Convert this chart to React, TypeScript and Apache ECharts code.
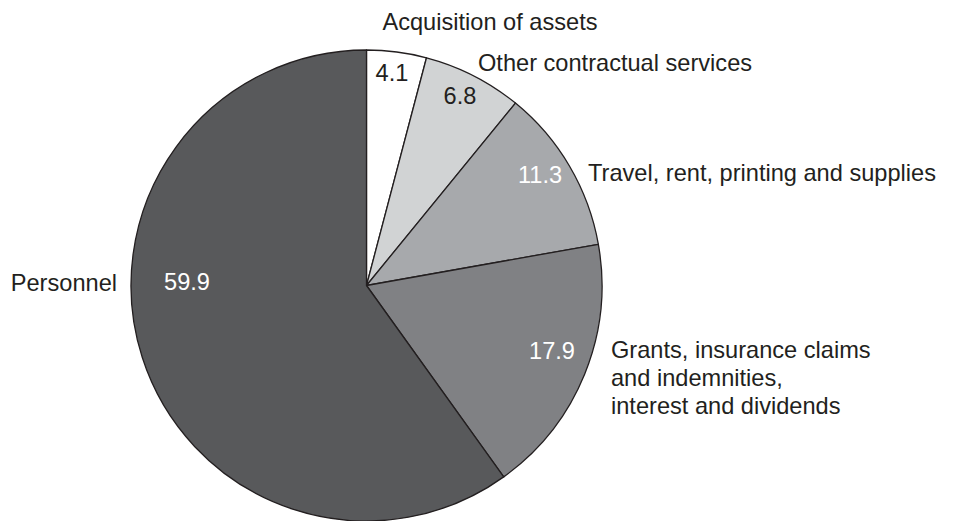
import React, { useEffect, useRef } from "react";
import * as echarts from "echarts";

const categories = [
  "Acquisition of assets",
  "Other contractual services",
  "Travel, rent, printing and supplies",
  "Grants, insurance claims\nand indemnities,\ninterest and dividends",
  "Personnel",
];
const values = [4.1, 6.8, 11.3, 17.9, 59.9];
const sliceColors = ["#ffffff", "#d1d3d4", "#a7a9ac", "#808184", "#58595b"];
const valueLabelColors = ["#231f20", "#231f20", "#ffffff", "#ffffff", "#ffffff"];

// label anchor positions (layout only)
const valueLabelPos: [number, number][] = [
  [392, 73],
  [460, 96],
  [540, 175],
  [552, 351],
  [187, 282],
];
const nameLabelPos: { x: number; y: number; align: string }[] = [
  { x: 490, y: 22, align: "center" },
  { x: 478, y: 63, align: "left" },
  { x: 588, y: 173, align: "left" },
  { x: 611, y: 378, align: "left" },
  { x: 117, y: 283, align: "right" },
];

const FONT = "'Liberation Sans', Arial, Helvetica, sans-serif";
const FONT_SIZE = 23.6;

export default function App() {
  const ref = useRef<HTMLDivElement>(null);
  useEffect(() => {
    if (!ref.current) return;
    const chart = echarts.init(ref.current, undefined, { renderer: "svg" });
    const center = [366.5, 285.5];
    const radius = 235.5;
    chart.setOption({
      animation: false,
      backgroundColor: "#ffffff",
      series: [
        {
          type: "pie",
          center,
          radius,
          startAngle: 90,
          clockwise: true,
          silent: true,
          data: categories.map((name, i) => ({
            name,
            value: values[i],
            itemStyle: { color: sliceColors[i] },
            label: { color: valueLabelColors[i] },
          })),
          itemStyle: { borderColor: "#231f20", borderWidth: 1.3 },
          label: {
            show: true,
            position: "inside",
            overflow: "none",
            formatter: (p: any) => p.value.toFixed(1),
            fontFamily: FONT,
            fontSize: FONT_SIZE,
          },
          labelLine: { show: false },
          labelLayout: (p: any) => ({
            x: valueLabelPos[p.dataIndex][0],
            y: valueLabelPos[p.dataIndex][1],
            align: "center",
            verticalAlign: "middle",
          }),
        },
        {
          type: "pie",
          center,
          radius,
          startAngle: 90,
          clockwise: true,
          silent: true,
          z: 3,
          data: categories.map((name, i) => ({ name, value: values[i] })),
          itemStyle: { color: "rgba(0,0,0,0)", borderWidth: 0 },
          label: {
            show: true,
            position: "inside",
            overflow: "none",
            formatter: "{b}",
            fontFamily: FONT,
            fontSize: FONT_SIZE,
            lineHeight: 28,
            color: "#231f20",
          },
          labelLine: { show: false },
          labelLayout: (p: any) => ({
            x: nameLabelPos[p.dataIndex].x,
            y: nameLabelPos[p.dataIndex].y,
            align: nameLabelPos[p.dataIndex].align,
            verticalAlign: "middle",
          }),
        },
      ],
    });
    return () => chart.dispose();
  }, []);
  return (
    <div
      ref={ref}
      style={{ position: "absolute", left: 0, top: 0, width: 956, height: 521 }}
    />
  );
}
